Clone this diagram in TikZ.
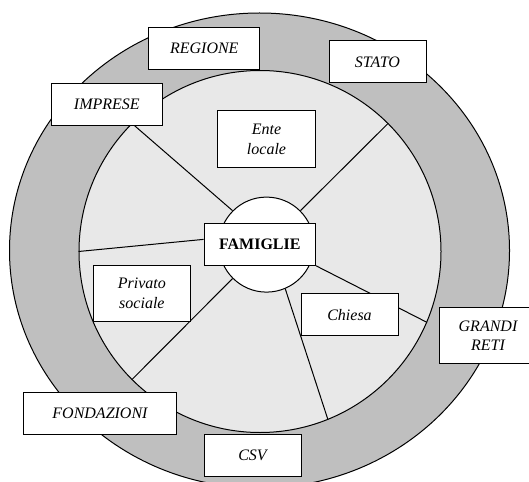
\documentclass[tikz,border=0pt]{standalone}
\usepackage{fontspec}
\setmainfont{Liberation Serif}
\usetikzlibrary{shapes.geometric, positioning}

\begin{document}
\begin{tikzpicture}[x=1pt, y=-1pt,
    ente/.style={draw, fill=white, line width=1pt, inner sep=0pt, align=center,
        font=\fontsize{16}{19.5}\selectfont\itshape, minimum height=42},
    raggio/.style={line width=1pt}]

\useasboundingbox (0,0) rectangle (529,481);

% --- Rings ---

% Outer ring (grey) and inner community disc (light grey)
\node[ellipse, draw, line width=1pt, fill=gray!50, inner sep=0pt,
    minimum width=500, minimum height=475] (anello) at (259.5,250.5) {};
\node[circle, draw, line width=1pt, fill=gray!18, inner sep=0pt,
    minimum size=362] (comunita) at (260,251.5) {};

% Centre circle with the families box
\node[circle, draw, line width=1pt, fill=white, inner sep=0pt,
    minimum size=95] (nucleo) at (266.5,244.6) {};
\node[ente, font=\fontsize{16}{19.5}\selectfont\bfseries, minimum width=111.5]
    (famiglie) at (259.8,244.3) {FAMIGLIE};

% --- Spokes ---
\foreach \a/\b in {135/135, 45/45, 225/225, 293/292}
{
    \draw[raggio] (nucleo.\a) -- (comunita.\b);
}
\draw[raggio] (comunita.180) -- (famiglie.175);
\draw[raggio] (famiglie.south east) -- (comunita.337);

% --- Actors inside the community ---
\node[ente, minimum width=98, minimum height=57] (entelocale) at (266.5,139.4) {Ente\\locale};
\node[ente, minimum width=97, minimum height=56] (privato) at (141.9,293.3) {Privato\\sociale};
\node[ente, minimum width=97] (chiesa) at (349.5,314.9) {Chiesa};

% --- Actors on the outer ring ---
\node[ente, minimum width=111] (regione) at (204.3,48.75) {REGIONE};
\node[ente, minimum width=97] (stato) at (377.5,62) {STATO};
\node[ente, minimum width=111] (imprese) at (106.8,104.75) {IMPRESE};
\node[ente, minimum width=97, minimum height=56] (grandireti) at (488,335.5) {GRANDI\\RETI};
\node[ente, minimum width=153] (fondazioni) at (100,413.1) {FONDAZIONI};
\node[ente, minimum width=97] (csv) at (252.5,455) {CSV};

\end{tikzpicture}
\end{document}
